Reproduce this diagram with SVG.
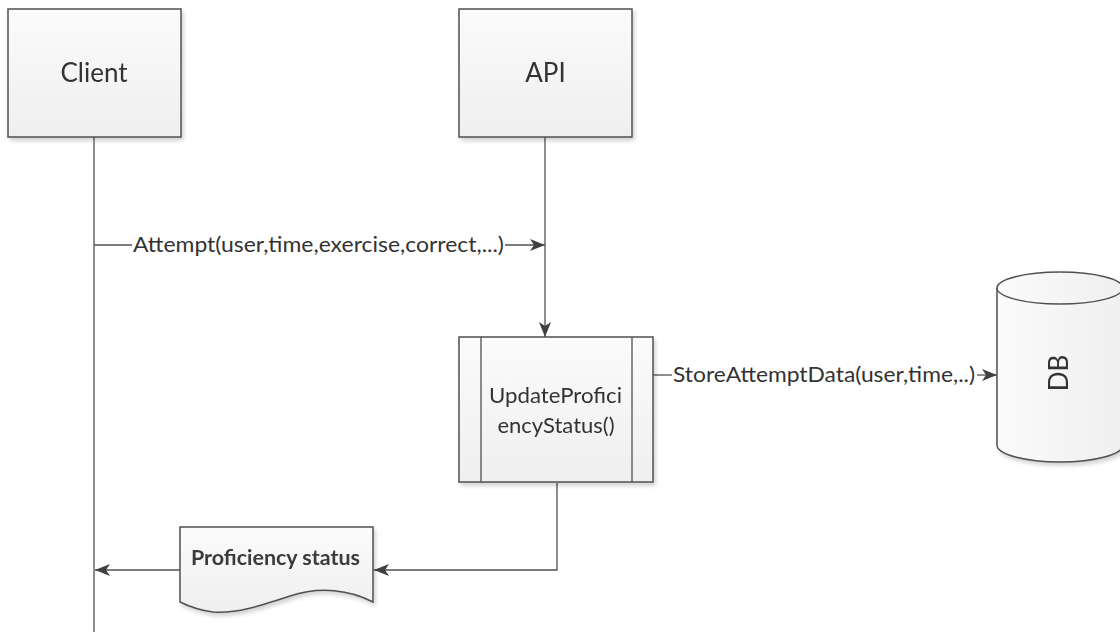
<svg xmlns="http://www.w3.org/2000/svg" width="1120" height="632" viewBox="0 0 1120 632">
<defs>
<linearGradient id="fillg" x1="0" y1="0" x2="0" y2="1">
<stop offset="0" stop-color="#fbfbfb"/>
<stop offset="1" stop-color="#efefef"/>
</linearGradient>
<linearGradient id="fillh" x1="0" y1="0" x2="1" y2="0">
<stop offset="0" stop-color="#fbfbfb"/>
<stop offset="1" stop-color="#efefef"/>
</linearGradient>
<filter id="sh" x="-10%" y="-10%" width="130%" height="130%">
<feGaussianBlur in="SourceAlpha" stdDeviation="2"/>
<feOffset dx="2" dy="3" result="b"/>
<feComponentTransfer><feFuncA type="linear" slope="0.18"/></feComponentTransfer>
<feMerge><feMergeNode/><feMergeNode in="SourceGraphic"/></feMerge>
</filter>
<marker id="arr" viewBox="0 0 15 12" refX="15" refY="6" markerWidth="15" markerHeight="12" markerUnits="userSpaceOnUse" orient="auto">
<path d="M0,0 L15,6 L0,12 L4,6 Z" fill="#404040"/>
</marker>
</defs>
<style>
.shape{fill:url(#fillg);stroke:#505050;stroke-width:1.5}
.line{fill:none;stroke:#505050;stroke-width:1.3}
.t{font-family:Lato,"Open Sans",sans-serif;fill:#333333}
.big{font-size:26px}
.mid{font-size:22px}
.lbl{font-size:21px}
</style>
<rect width="1120" height="632" fill="#ffffff"/>
<g id="connectors">
<line class="line" x1="94" y1="137" x2="94" y2="632"/>
<line class="line" x1="545" y1="137" x2="545" y2="337" marker-end="url(#arr)"/>
<line class="line" x1="94" y1="245" x2="132" y2="245"/>
<line class="line" x1="505" y1="245" x2="545" y2="245" marker-end="url(#arr)"/>
<line class="line" x1="653" y1="375" x2="672" y2="375"/>
<line class="line" x1="977" y1="375" x2="997" y2="375" marker-end="url(#arr)"/>
<polyline class="line" points="557,483 557,570 374,570" marker-end="url(#arr)"/>
<line class="line" x1="180" y1="570" x2="95" y2="570" marker-end="url(#arr)"/>
<rect x="132" y="232" width="373" height="26" fill="#ffffff"/>
<text class="t lbl" x="133" y="252" textLength="371" lengthAdjust="spacingAndGlyphs">Attempt(user,time,exercise,correct,...)</text>
<rect x="672" y="362" width="305" height="26" fill="#ffffff"/>
<text class="t lbl" x="673" y="382" textLength="302" lengthAdjust="spacingAndGlyphs">StoreAttemptData(user,time,..)</text>
</g>
<g id="client" filter="url(#sh)">
<rect class="shape" x="8" y="9" width="173" height="128"/>
<text class="t big" x="94" y="82" text-anchor="middle">Client</text>
</g>
<g id="api" filter="url(#sh)">
<rect class="shape" x="459" y="9" width="173" height="128"/>
<text class="t big" x="545.5" y="82" text-anchor="middle">API</text>
</g>
<g id="process" filter="url(#sh)">
<rect class="shape" x="459" y="337" width="194" height="145"/>
<line class="line" x1="481" y1="337" x2="481" y2="482"/>
<line class="line" x1="632" y1="337" x2="632" y2="482"/>
<text class="t mid" x="489" y="403" textLength="133" lengthAdjust="spacingAndGlyphs">UpdateProfici</text>
<text class="t mid" x="556" y="433" text-anchor="middle">encyStatus()</text>
</g>
<g id="db" filter="url(#sh)">
<path class="shape" style="fill:url(#fillh)" d="M997,288 A63,16 0 0 1 1123,288 L1123,445 A63,17 0 0 1 997,445 Z"/>
<path class="line" d="M997,288 A63,16 0 0 0 1123,288"/>
<text class="t big" transform="translate(1068,373) rotate(-90)" text-anchor="middle">DB</text>
</g>
<g id="doc" filter="url(#sh)">
<path class="shape" d="M180,527 L373,527 L373,602 C350,590 320,586 290,596 C260,606 235,614 213,612 C198,610 188,606 180,602 Z"/>
<text class="t lbl" x="191" y="565" textLength="169" lengthAdjust="spacingAndGlyphs" style="font-weight:700;fill:#3a3a3a">Proficiency status</text>
</g>
</svg>
